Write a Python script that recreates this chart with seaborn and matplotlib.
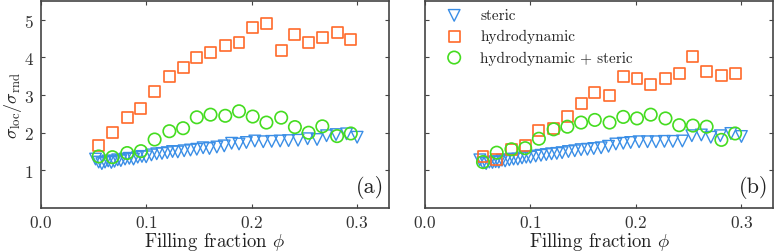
"""
Relative density fluctuations vs filling fraction, two panels (a) and (b).
"""

import matplotlib.pyplot as plt
import pandas as pd
import seaborn as sns

# --- data ---
phi_steric = [0.052, 0.055, 0.058, 0.061, 0.064, 0.067, 0.070, 0.073, 0.076, 0.080,
              0.084, 0.088, 0.092, 0.096, 0.100, 0.105, 0.110, 0.115, 0.120, 0.125,
              0.130, 0.136, 0.142, 0.148, 0.154, 0.160, 0.167, 0.174, 0.181, 0.188,
              0.195, 0.203, 0.211, 0.219, 0.227, 0.235, 0.244, 0.253, 0.262, 0.271,
              0.280, 0.290, 0.300]
steric_a = [1.30, 1.22, 1.18, 1.22, 1.25, 1.21, 1.24, 1.28, 1.26, 1.30,
            1.32, 1.30, 1.35, 1.37, 1.36, 1.41, 1.44, 1.45, 1.47, 1.50,
            1.49, 1.52, 1.54, 1.56, 1.60, 1.58, 1.62, 1.65, 1.72, 1.70,
            1.74, 1.78, 1.76, 1.77, 1.78, 1.79, 1.80, 1.84, 1.82, 1.92,
            1.95, 1.97, 1.88]
steric_b = [1.28, 1.20, 1.18, 1.22, 1.21, 1.23, 1.22, 1.27, 1.25, 1.28,
            1.30, 1.30, 1.33, 1.35, 1.35, 1.38, 1.40, 1.42, 1.44, 1.45,
            1.47, 1.50, 1.52, 1.55, 1.56, 1.58, 1.60, 1.64, 1.70, 1.72,
            1.74, 1.76, 1.76, 1.76, 1.77, 1.77, 1.78, 1.92, 1.94, 1.88,
            1.92, 1.98, 1.90]

phi_coarse = [0.055, 0.068, 0.082, 0.095, 0.108, 0.122, 0.135, 0.148, 0.161, 0.175,
              0.188, 0.201, 0.214, 0.228, 0.241, 0.254, 0.267, 0.281, 0.294]
hydro_a = [1.67, 2.01, 2.41, 2.64, 3.10, 3.50, 3.74, 4.00, 4.12, 4.33,
           4.40, 4.80, 4.90, 4.19, 4.61, 4.41, 4.52, 4.67, 4.47]
both_a = [1.37, 1.35, 1.46, 1.51, 1.82, 2.04, 2.12, 2.41, 2.48, 2.45,
          2.57, 2.43, 2.27, 2.40, 2.15, 2.00, 2.17, 1.91, 1.98]
hydro_b = [1.38, 1.30, 1.56, 1.65, 2.06, 2.11, 2.42, 2.77, 3.07, 3.00,
           3.50, 3.44, 3.28, 3.43, 3.57, 4.03, 3.62, 3.53, 3.58]
both_b = [1.22, 1.47, 1.56, 1.59, 1.84, 2.09, 2.16, 2.27, 2.34, 2.27,
          2.42, 2.38, 2.48, 2.38, 2.20, 2.19, 2.16, 1.81, 1.98]

labels = ["steric", "hydrodynamic", "hydrodynamic + steric"]
panel_names = ["(a)", "(b)"]

BLUE = "#3a8ee6"
ORANGE = "#ff6a2a"
GREEN = "#45dc20"

sns.set_style("ticks")
plt.rcParams.update({
    "font.family": "serif",
    "font.serif": ["cmr10", "DejaVu Serif"],
    "mathtext.fontset": "cm",
    "axes.formatter.use_mathtext": True,
    "axes.unicode_minus": False,
    "axes.edgecolor": "#444444",
    "axes.linewidth": 1.2,
    "xtick.direction": "in",
    "ytick.direction": "in",
    "xtick.top": True,
    "ytick.right": True,
    "xtick.major.size": 3,
    "ytick.major.size": 3,
    "xtick.major.pad": 4,
    "ytick.major.pad": 5,
    "xtick.color": "#444444",
    "ytick.color": "#444444",
    "xtick.labelcolor": "#333333",
    "ytick.labelcolor": "#333333",
})

fig, axes = plt.subplots(1, 2, figsize=(7.75, 2.53), dpi=100, sharey=True)
fig.subplots_adjust(left=0.0525, right=0.9975, bottom=0.174, top=0.992, wspace=0.104)

panels = [
    (steric_a, hydro_a, both_a),
    (steric_b, hydro_b, both_b),
]

for ax, (st, hy, bo), name in zip(axes, panels, panel_names):
    df_fine = pd.DataFrame({"phi": phi_steric, "steric": st})
    df_coarse = pd.DataFrame({"phi": phi_coarse, "hydro": hy, "both": bo})

    sns.scatterplot(data=df_fine, x="phi", y="steric", marker="v", s=70,
                    facecolor="none", edgecolor=BLUE, linewidth=1.0,
                    label=labels[0], ax=ax)
    sns.scatterplot(data=df_coarse, x="phi", y="hydro", marker="s", s=62,
                    facecolor="none", edgecolor=ORANGE, linewidth=1.2,
                    label=labels[1], ax=ax)
    sns.scatterplot(data=df_coarse, x="phi", y="both", marker="o", s=80,
                    facecolor="none", edgecolor=GREEN, linewidth=1.2,
                    label=labels[2], ax=ax)

    ax.set_xlim(0, 0.33)
    ax.set_ylim(0, 5.5)
    ax.set_xticks([0.0, 0.1, 0.2, 0.3])
    ax.set_yticks([1, 2, 3, 4, 5])
    ax.tick_params(labelsize=12.5)
    ax.set_xlabel(r"Filling fraction $\phi$", fontsize=13.5, color="#222222", labelpad=0)
    ax.set_ylabel("")
    ax.text(0.986, 0.106, name, transform=ax.transAxes, ha="right", va="center",
            fontsize=16, color="#222222")
    for side in ["top", "right"]:
        ax.spines[side].set_visible(True)

axes[0].set_ylabel(r"$\sigma_{\rm loc}/\sigma_{\rm rnd}$", fontsize=13, color="#222222", labelpad=0)
axes[0].get_legend().remove()
axes[1].tick_params(labelleft=False)
axes[1].legend(loc="upper left", bbox_to_anchor=(0.04, 1.0), frameon=False,
               fontsize=11, handlelength=1.0, handletextpad=1.2, borderaxespad=0.2,
               labelspacing=0.45, borderpad=0.3)

fig.savefig("out.png", dpi=100)
